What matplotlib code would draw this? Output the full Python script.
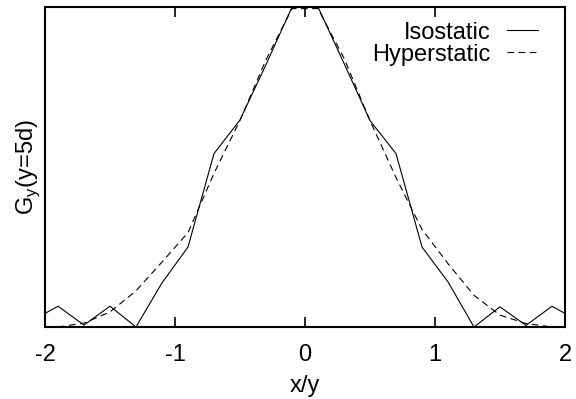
import matplotlib
matplotlib.use('Agg')
import matplotlib.pyplot as plt

plt.rcParams['font.family'] = ['Liberation Sans', 'DejaVu Sans']
plt.rcParams['mathtext.fontset'] = 'custom'
plt.rcParams['mathtext.rm'] = 'Liberation Sans'

# influence line G_y at y = 5d, normalised to the peak
x_iso = [-2.1, -1.9, -1.7, -1.5, -1.3, -1.1, -0.9, -0.7, -0.5, -0.3, -0.1,
         0.1, 0.3, 0.5, 0.7, 0.9, 1.1, 1.3, 1.5, 1.7, 1.9, 2.1]
g_iso = [0.02, 0.065, 0.006, 0.065, 0.0, 0.138, 0.25, 0.542, 0.647, 0.82, 1.0,
         1.0, 0.824, 0.645, 0.542, 0.25, 0.141, 0.0, 0.063, 0.005, 0.065, 0.02]

x_hyp = [-1.9, -1.7, -1.5, -1.3, -1.1, -0.9, -0.7, -0.5, -0.3, -0.1,
         0.1, 0.3, 0.5, 0.7, 0.9, 1.1, 1.3, 1.5, 1.7, 1.9]
g_hyp = [0.0, 0.012, 0.047, 0.113, 0.203, 0.295, 0.48, 0.646, 0.835, 0.995,
         0.995, 0.84, 0.645, 0.467, 0.305, 0.198, 0.099, 0.037, 0.011, 0.0]

xticks = [-2, -1, 0, 1, 2]

fig = plt.figure(figsize=(5.76, 3.99), dpi=100)
ax = fig.add_axes([45/576, 1 - 327/399, 520/576, 320/399])

ax.plot(x_iso, g_iso, color='black', linewidth=0.8, label='Isostatic')
ax.plot(x_hyp, g_hyp, color='black', linewidth=0.8, dashes=(6, 4), label='Hyperstatic')

ax.set_xlim(-2, 2)
ax.set_ylim(0, 1)
ax.set_xticks(xticks)
ax.set_xticklabels([str(t) for t in xticks])
ax.set_yticks([])
ax.tick_params(axis='x', direction='in', length=7, width=1.2, top=True,
               labelsize=17, pad=12)
for sp in ax.spines.values():
    sp.set_linewidth(1.5)

ax.set_xlabel('x/y', fontsize=17, labelpad=7)
ax.set_ylabel(r'G$_\mathregular{y}$(y=5d)', fontsize=17, labelpad=2)

ax.legend(loc='upper right', bbox_to_anchor=(0.9475, 0.954), frameon=False,
          markerfirst=False, fontsize=17, handlelength=1.31, handletextpad=0.68,
          labelspacing=0.0, borderpad=0, borderaxespad=0)

fig.savefig('out.png', dpi=100)
